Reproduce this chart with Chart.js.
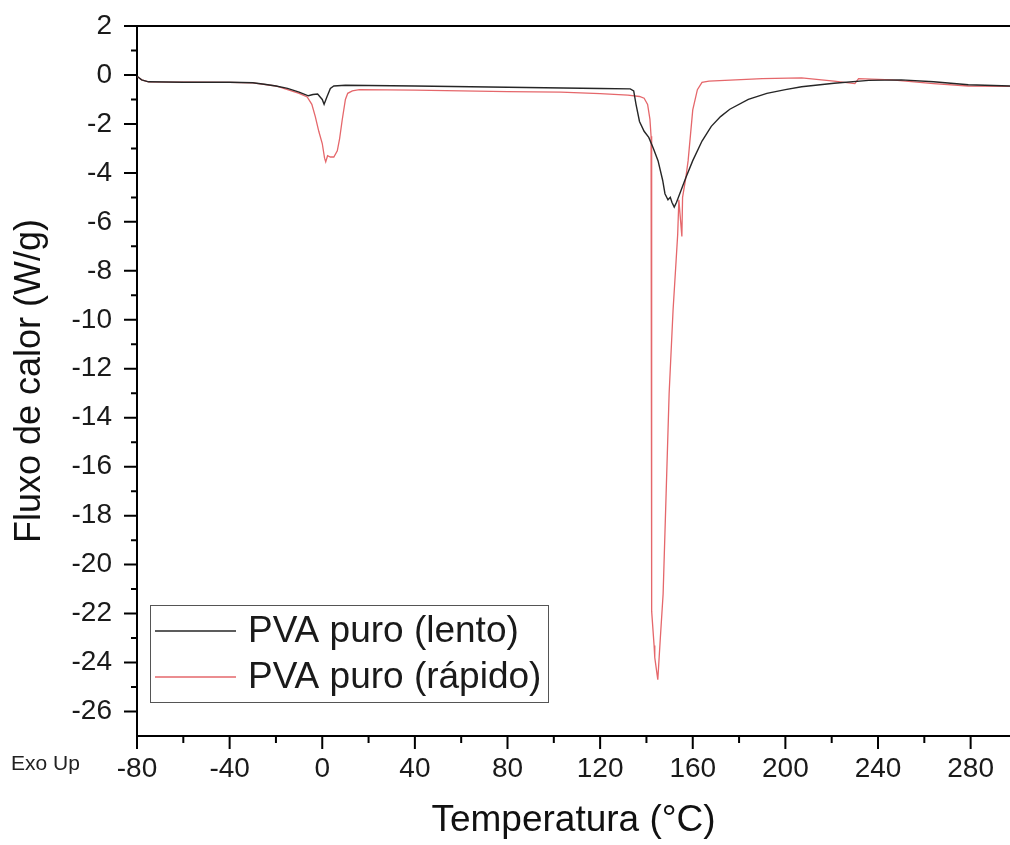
<!DOCTYPE html>
<html>
<head>
<meta charset="utf-8">
<script src="https://cdn.jsdelivr.net/npm/chart.js@4.4.1/dist/chart.umd.min.js"></script>
<style>
html,body{margin:0;padding:0;background:#fff;}
#wrap{width:1010px;height:845px;}
</style>
</head>
<body>
<div id="wrap"><canvas id="graph" width="1010" height="845"></canvas></div>
<script>

// PVA puro (lento) - black curve
const lentoT=[-80,-78,-75,-60,-40,-30,-25,-20,-15,-10,-6,-4,-2,0,0.8,2,3.5,5,10,40,80,120,133,134.5,135.5,137,139,141,143,145,147,148,149.3,150.3,151,152,153,155,157,160,164,168,172,176,184,192,200,207,221,236,250,264,279,297];
const lentoY=[-0.05,-0.2,-0.28,-0.3,-0.3,-0.32,-0.38,-0.45,-0.55,-0.7,-0.85,-0.8,-0.78,-1.0,-1.2,-0.9,-0.55,-0.45,-0.42,-0.45,-0.5,-0.55,-0.57,-0.65,-1.2,-1.9,-2.3,-2.55,-3.0,-3.5,-4.3,-4.85,-5.1,-5.0,-5.2,-5.4,-5.2,-4.7,-4.2,-3.5,-2.7,-2.1,-1.7,-1.4,-1.0,-0.75,-0.6,-0.48,-0.34,-0.22,-0.2,-0.28,-0.4,-0.45];

// PVA puro (rápido) - red curve
const rapidoT=[-80,-78,-75,-40,-30,-20,-10,-6.5,-4.5,-3,-1.5,0,1,1.5,2.3,3.5,5,6.5,7.5,8.6,10,11,13,16,40,80,103,120,132,137,139,140.5,141.5,142,142.2,142.3,143.3,143.6,144.9,146,147.2,148.5,149.8,151.5,152.8,153.5,154,155.3,155.6,157,158,160,162,164,167,190,207,221,230,231.6,246,264,279,297];
const rapidoY=[-0.05,-0.2,-0.28,-0.3,-0.32,-0.45,-0.75,-0.9,-1.2,-1.7,-2.3,-2.8,-3.4,-3.55,-3.3,-3.35,-3.35,-3.1,-2.6,-1.85,-1.0,-0.75,-0.65,-0.6,-0.62,-0.68,-0.7,-0.76,-0.82,-0.88,-0.95,-1.2,-1.8,-2.5,-10,-21.9,-23.3,-23.8,-24.7,-23,-21.2,-17.1,-13.0,-9.6,-7.6,-6.5,-5.1,-6.6,-5.0,-4.2,-3.5,-1.43,-0.6,-0.3,-0.25,-0.15,-0.12,-0.25,-0.35,-0.15,-0.2,-0.35,-0.45,-0.47];

const seriesNames=["PVA puro (lento)","PVA puro (rápido)"];

const xMajor=[-80,-40,0,40,80,120,160,200,240,280];
const xMinor=[-60,-20,20,60,100,140,180,220,260];
const yMajor=[2,0,-2,-4,-6,-8,-10,-12,-14,-16,-18,-20,-22,-24,-26];
const yMinor=[1,-1,-3,-5,-7,-9,-11,-13,-15,-17,-19,-21,-23,-25];

const FONT="'Liberation Sans', Arial, sans-serif";

function pts(xs,ys){
return xs.map((v,i)=>({x:v,y:ys[i]}));
}

const decor={
id:'decor',
afterDraw(c){
const ctx=c.ctx,xs=c.scales.x,ys=c.scales.y,a=c.chartArea;
ctx.save();
ctx.strokeStyle="#000";
ctx.lineWidth=2;
ctx.beginPath();
ctx.moveTo(a.left-1,a.top);
ctx.lineTo(c.width,a.top);
xMajor.forEach(v=>{let p=xs.getPixelForValue(v);ctx.moveTo(p,a.bottom);ctx.lineTo(p,a.bottom+13);});
xMinor.forEach(v=>{let p=xs.getPixelForValue(v);ctx.moveTo(p,a.bottom);ctx.lineTo(p,a.bottom+7);});
yMajor.forEach(v=>{let p=ys.getPixelForValue(v);ctx.moveTo(a.left,p);ctx.lineTo(a.left-13,p);});
yMinor.forEach(v=>{let p=ys.getPixelForValue(v);ctx.moveTo(a.left,p);ctx.lineTo(a.left-6,p);});
ctx.stroke();

// legend box
ctx.lineWidth=1;
ctx.strokeStyle="#555";
ctx.strokeRect(150.5,605.5,398,97);
c.data.datasets.forEach((d,i)=>{
let yy=631+i*46;
ctx.strokeStyle=d.borderColor;
ctx.lineWidth=1.5;
ctx.beginPath();
ctx.moveTo(155,yy);
ctx.lineTo(236,yy);
ctx.stroke();
ctx.fillStyle="#1a1a1a";
ctx.font="37px "+FONT;
ctx.textBaseline="middle";
ctx.textAlign="left";
ctx.fillText(d.label,248,yy+1);
});

ctx.font="21px "+FONT;
ctx.fillStyle="#222";
ctx.textBaseline="middle";
ctx.fillText("Exo Up",11,764);
ctx.restore();
}
};

const chart=new Chart(document.getElementById("graph"),{
type:'line',
data:{
datasets:[
{
label:seriesNames[0],
data:pts(lentoT,lentoY),
borderColor:"#262626",
borderWidth:1.4,
pointRadius:0,
tension:0
},
{
label:seriesNames[1],
data:pts(rapidoT,rapidoY),
borderColor:"#e5676b",
borderWidth:1.3,
pointRadius:0,
tension:0
}
]
},
options:{
responsive:false,
animation:false,
layout:{padding:{top:26,right:0,left:0,bottom:0}},
plugins:{legend:{display:false},tooltip:{enabled:false}},
scales:{
x:{
type:'linear',
min:-80,
max:297,
afterBuildTicks(s){s.ticks=xMajor.map(v=>({value:v}));},
afterFit(s){s.height=109;s.paddingRight=0;},
grid:{display:false,drawTicks:false},
border:{display:true,color:"#000",width:2},
ticks:{color:"#1a1a1a",font:{family:FONT,size:28},padding:16,maxRotation:0,autoSkip:false},
title:{display:true,text:"Temperatura (°C)",color:"#111",font:{family:FONT,size:37},padding:{top:0,bottom:2}}
},
y:{
type:'linear',
min:-27,
max:2,
afterBuildTicks(s){s.ticks=yMajor.map(v=>({value:v}));},
afterFit(s){s.width=137;s.paddingTop=0;s.paddingBottom=0;},
grid:{display:false,drawTicks:false},
border:{display:true,color:"#000",width:2},
ticks:{color:"#1a1a1a",font:{family:FONT,size:28},padding:25,autoSkip:false},
title:{display:true,text:"Fluxo de calor (W/g)",color:"#111",font:{family:FONT,size:36},padding:{top:8,bottom:0}}
}
}
},
plugins:[decor]
});

</script>
</body>
</html>
